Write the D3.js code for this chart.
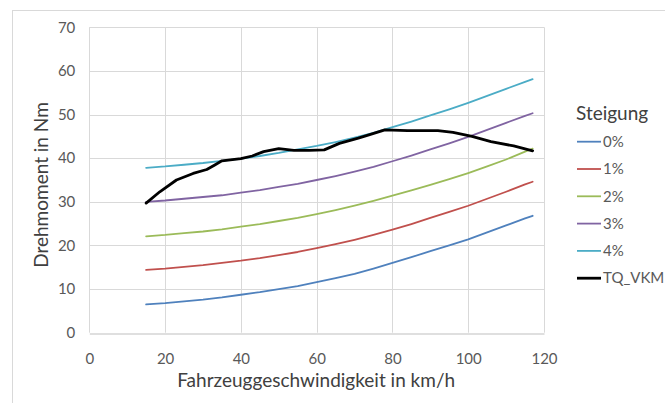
<!DOCTYPE html>
<html>
<head>
<meta charset="utf-8">
<script src="https://cdn.jsdelivr.net/npm/d3@7/dist/d3.min.js"></script>
<style>
  html, body { margin: 0; padding: 0; background: #fff; }
  svg { display: block; font-family: Lato, "Open Sans", sans-serif; }
</style>
</head>
<body>
<svg id="chart" width="665" height="403"></svg>
<script>
// Speed grid (km/h) shared by the gradient curves
const speeds = [15, 20, 25, 30, 35, 40, 45, 50, 55, 60, 65, 70, 75, 80, 85, 90, 95, 100, 105, 110, 115, 117];

// Required torque (Nm) per road gradient
const grade0 = [6.5, 6.8, 7.2, 7.6, 8.1, 8.7, 9.3, 10.0, 10.7, 11.6, 12.5, 13.5, 14.7, 16.0, 17.3, 18.7, 20.0, 21.4, 23.0, 24.6, 26.2, 26.8];
const grade1 = [14.4, 14.7, 15.1, 15.5, 16.0, 16.5, 17.1, 17.8, 18.5, 19.4, 20.3, 21.3, 22.4, 23.6, 24.9, 26.3, 27.7, 29.1, 30.7, 32.3, 34.0, 34.6];
const grade2 = [22.1, 22.4, 22.8, 23.2, 23.7, 24.3, 24.9, 25.6, 26.3, 27.2, 28.1, 29.1, 30.2, 31.4, 32.6, 33.9, 35.2, 36.6, 38.1, 39.7, 41.5, 42.2];
const grade3 = [30.0, 30.3, 30.7, 31.1, 31.5, 32.1, 32.7, 33.4, 34.1, 35.0, 35.9, 36.9, 38.0, 39.3, 40.6, 42.0, 43.4, 44.9, 46.5, 48.1, 49.7, 50.3];
const grade4 = [37.8, 38.1, 38.5, 38.9, 39.4, 39.9, 40.5, 41.2, 42.0, 42.8, 43.7, 44.7, 45.8, 47.1, 48.4, 49.8, 51.2, 52.7, 54.3, 55.9, 57.5, 58.1];

// Engine torque trace TQ_VKM (speed, torque)
const vkmSpeed = [15, 18.6, 23, 27.4, 31, 33, 35, 40, 43, 46, 50, 54, 58, 62, 66, 71, 74, 78, 84, 92, 96, 101, 106, 112, 117];
const vkmTorque = [29.7, 32.3, 35.0, 36.5, 37.4, 38.4, 39.4, 39.9, 40.5, 41.5, 42.2, 41.8, 41.8, 41.9, 43.4, 44.6, 45.4, 46.5, 46.3, 46.3, 45.9, 45.0, 43.8, 42.8, 41.7];

const seriesNames = ["0%", "1%", "2%", "3%", "4%", "TQ_VKM"];
const seriesColors = ["#4F81BD", "#C0504D", "#9BBB59", "#8064A2", "#4BACC6", "#000000"];

const xTicks = [0, 20, 40, 60, 80, 100, 120];
const yTicks = [0, 10, 20, 30, 40, 50, 60, 70];

const svg = d3.select("#chart");

// Chart area frame
svg.append("rect")
  .attr("x", 12.5).attr("y", 10.5)
  .attr("width", 700).attr("height", 450)
  .attr("fill", "#fff").attr("stroke", "#D9D9D9").attr("stroke-width", 1);

const plot = { left: 89.3, right: 544, top: 27.3, bottom: 332.7 };

const x = d3.scaleLinear().domain([0, 120]).range([plot.left, plot.right]);
const y = d3.scaleLinear().domain([0, 70]).range([plot.bottom, plot.top]);

// Gridlines
const grid = svg.append("g").attr("class", "grid");
grid.selectAll("line.h").data(yTicks.filter(d => d > 0)).join("line")
  .attr("class", "h")
  .attr("x1", plot.left).attr("x2", plot.right)
  .attr("y1", d => Math.round(y(d)) + 0.5).attr("y2", d => Math.round(y(d)) + 0.5)
  .attr("stroke", "#D9D9D9");
grid.selectAll("line.v").data(xTicks).join("line")
  .attr("class", "v")
  .attr("y1", plot.top).attr("y2", plot.bottom)
  .attr("x1", d => Math.round(x(d)) + 0.5).attr("x2", d => Math.round(x(d)) + 0.5)
  .attr("stroke", "#D9D9D9");

// Axes (labels only; the horizontal axis line is drawn in grey)
const xAxis = d3.axisBottom(x).tickValues(xTicks).tickSize(0).tickPadding(20);
const yAxis = d3.axisLeft(y).tickValues(yTicks).tickSize(0).tickPadding(14);

const gx = svg.append("g").attr("transform", `translate(0,${Math.round(plot.bottom) + 0.5})`).call(xAxis);
gx.select(".domain").attr("stroke", "#BFBFBF");
gx.selectAll("text").attr("fill", "#595959").style("font-size", "15px").style("font-family", "Lato, sans-serif");

const gy = svg.append("g").attr("transform", `translate(${plot.left},0)`).call(yAxis);
gy.select(".domain").remove();
gy.selectAll("text").attr("fill", "#595959").style("font-size", "15px").style("font-family", "Lato, sans-serif");

// Lines
const line = d3.line().x(d => x(d[0])).y(d => y(d[1]));
const grades = [grade0, grade1, grade2, grade3, grade4];
grades.forEach((vals, i) => {
  svg.append("path")
    .datum(speeds.map((s, j) => [s, vals[j]]))
    .attr("d", line)
    .attr("fill", "none")
    .attr("stroke", seriesColors[i])
    .attr("stroke-width", 1.8)
    .attr("stroke-linejoin", "round")
    .attr("stroke-linecap", "round");
});
svg.append("path")
  .datum(vkmSpeed.map((s, j) => [s, vkmTorque[j]]))
  .attr("d", line)
  .attr("fill", "none")
  .attr("stroke", seriesColors[5])
  .attr("stroke-width", 2.8)
  .attr("stroke-linejoin", "round")
  .attr("stroke-linecap", "round");

// Axis titles
svg.append("text")
  .attr("x", (plot.left + plot.right) / 2 - 0.5).attr("y", 387)
  .attr("text-anchor", "middle")
  .attr("fill", "#404040")
  .style("font-size", "19px")
  .text("Fahrzeuggeschwindigkeit in km/h");

svg.append("text")
  .attr("transform", "translate(48,185) rotate(-90)")
  .attr("text-anchor", "middle")
  .attr("fill", "#404040")
  .style("font-size", "19px")
  .text("Drehmoment in Nm");

// Legend
const legend = svg.append("g").attr("transform", "translate(576,0)");
legend.append("text")
  .attr("x", 0).attr("y", 120)
  .attr("fill", "#404040")
  .style("font-size", "19px")
  .text("Steigung");

const items = legend.selectAll("g.item").data(seriesNames).join("g")
  .attr("class", "item")
  .attr("transform", (d, i) => `translate(0,${141.7 + i * 27.3})`);
items.append("line")
  .attr("x1", 1).attr("x2", 25)
  .attr("y1", 0).attr("y2", 0)
  .attr("stroke", (d, i) => seriesColors[i])
  .attr("stroke-width", (d, i) => i === 5 ? 2.8 : 1.8);
items.append("text")
  .attr("x", 27).attr("y", 0)
  .attr("dy", "0.35em")
  .attr("fill", "#595959")
  .style("font-size", "15px")
  .text(d => d);
</script>
</body>
</html>
